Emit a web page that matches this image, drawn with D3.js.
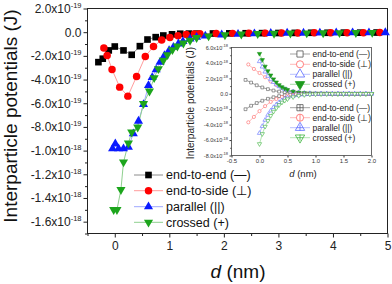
<!DOCTYPE html>
<html>
<head>
<meta charset="utf-8">
<script src="https://d3js.org/d3.v7.min.js"></script>
<style>
  body { margin: 0; background: #fff; }
  svg { display: block; font-family: "Liberation Sans", Arial, sans-serif; }
</style>
</head>
<body>
<div id="chart"></div>
<script>
// ---- main panel data (d in nm, potential in units of 1e-19 J) ----
const e2eD = [-0.3, -0.22, -0.11, 0.0, 0.16, 0.31, 0.46, 0.6, 0.75, 0.89, 1.05, 1.2, 1.36, 1.5, 1.8, 2.1, 2.4, 2.7, 3.0, 3.3, 3.6, 3.9, 4.2, 4.5, 4.8];
const e2eV = [-2.53, -2.24, -1.54, -1.21, -1.54, -1.91, -1.18, -0.62, -0.42, -0.28, -0.18, -0.13, -0.12, -0.12, -0.11, -0.1, -0.09, -0.08, -0.07, -0.06, -0.05, -0.05, -0.04, -0.04, -0.03];
const e2sD = [-0.2, -0.14, -0.05, 0.09, 0.24, 0.4, 0.56, 0.71, 0.86, 1.01, 1.16, 1.31, 1.46, 1.56, 1.86, 2.16, 2.46, 2.76, 3.06, 3.36, 3.66, 3.96, 4.26, 4.56, 4.86];
const e2sV = [-1.33, -1.97, -3.15, -4.64, -5.4, -3.74, -2.05, -1.21, -0.66, -0.45, -0.3, -0.2, -0.15, -0.13, -0.12, -0.1, -0.09, -0.08, -0.07, -0.06, -0.05, -0.05, -0.04, -0.04, -0.03];
const parD = [-0.04, 0.01, 0.07, 0.16, 0.25, 0.34, 0.435, 0.527, 0.618, 0.686, 0.759, 0.83, 0.91, 0.996, 1.075, 1.166, 1.25, 1.38, 1.5, 1.66, 1.96, 2.26, 2.56, 2.86, 3.16, 3.46, 3.76, 4.06, 4.36, 4.66, 4.96];
const parV = [-9.84, -9.43, -9.84, -9.84, -9.7, -8.57, -7.51, -6.1, -4.5, -3.82, -3.17, -2.53, -1.97, -1.54, -1.27, -0.98, -0.78, -0.57, -0.42, -0.32, -0.22, -0.17, -0.13, -0.1, -0.08, -0.07, -0.06, -0.05, -0.04, -0.04, -0.03];
const crsD = [-0.02, 0.04, 0.113, 0.16, 0.25, 0.31, 0.42, 0.527, 0.636, 0.722, 0.8, 0.89, 0.965, 1.057, 1.148, 1.258, 1.38, 1.5, 1.72, 2.02, 2.32, 2.62, 2.92, 3.22, 3.52, 3.82, 4.12, 4.42, 4.72];
const crsV = [-14.99, -14.99, -13.3, -10.97, -9.37, -8.44, -8.02, -6.04, -4.98, -3.85, -3.09, -2.39, -1.91, -1.49, -1.18, -0.93, -0.7, -0.47, -0.33, -0.23, -0.17, -0.13, -0.1, -0.08, -0.07, -0.06, -0.05, -0.04, -0.03];

const legendLabels = ['end-to-end (\u2014)', 'end-to-side (\u22A5)', 'parallel (||)', 'crossed (+)'];

const xTicks = [0, 1, 2, 3, 4, 5];
const xMinor = [-0.5, 0.5, 1.5, 2.5, 3.5, 4.5];
const yTicks = [2, 0, -2, -4, -6, -8, -10, -12, -14, -16];
const yTickMant = ['2.0', '0.0', '-2.0', '-4.0', '-6.0', '-8.0', '-1.0', '-1.2', '-1.4', '-1.6'];
const yTickExp = ['-19', '', '-19', '-19', '-19', '-19', '-18', '-18', '-18', '-18'];
const yMinor = [1, -1, -3, -5, -7, -9, -11, -13, -15, -17];

// ---- inset data (d in nm, potential in units of 1e-18 J) ----
const inE2eD = [-0.25, -0.15, -0.05, 0.05, 0.15, 0.25, 0.35, 0.45, 0.55, 0.65, 0.75, 0.85, 0.95, 1.05, 1.15, 1.25, 1.35, 1.45, 1.55, 1.65, 1.75, 1.85, 1.95];
const inE2ePos = [1.8, 1.45, 1.1, 0.82, 0.6, 0.42, 0.28, 0.18, 0.11, 0.07, 0.05, 0.03, 0.02, 0.02, 0.01, 0.01, 0.01, 0.01, 0, 0, 0, 0, 0];
const inE2eNeg = [-2.0, -1.55, -1.2, -0.9, -0.65, -0.45, -0.3, -0.19, -0.12, -0.07, -0.05, -0.03, -0.02, -0.02, -0.01, -0.01, -0.01, -0.01, 0, 0, 0, 0, 0];
const inE2sD = [-0.2, -0.1, 0, 0.1, 0.2, 0.3, 0.4, 0.5, 0.6, 0.7, 0.8, 0.9, 1.0, 1.1, 1.2, 1.3, 1.4, 1.5, 1.6, 1.7, 1.8, 1.9, 2.0];
const inE2sPos = [3.8, 3.22, 2.7, 2.15, 1.6, 1.15, 0.75, 0.45, 0.27, 0.15, 0.09, 0.05, 0.03, 0.02, 0.01, 0.01, 0.01, 0, 0, 0, 0, 0, 0];
const inE2sNeg = [-3.7, -3.0, -2.25, -1.6, -1.05, -0.68, -0.42, -0.25, -0.15, -0.09, -0.05, -0.03, -0.02, -0.01, -0.01, -0.01, 0, 0, 0, 0, 0, 0, 0];
const inParD = [0, 0.05, 0.1, 0.15, 0.2, 0.25, 0.3, 0.35, 0.4, 0.45, 0.5, 0.6, 0.7, 0.8, 0.9, 1.0, 1.1, 1.2, 1.3, 1.4, 1.5, 1.6, 1.7, 1.8, 1.9, 2.0];
const inParPos = [4.2, 3.5, 2.85, 2.3, 1.85, 1.5, 1.2, 0.95, 0.75, 0.6, 0.47, 0.3, 0.18, 0.1, 0.06, 0.04, 0.03, 0.02, 0.01, 0.01, 0.01, 0, 0, 0, 0, 0];
const inParNeg = [-5.1, -4.2, -3.4, -2.75, -2.2, -1.75, -1.4, -1.1, -0.85, -0.65, -0.5, -0.3, -0.18, -0.1, -0.06, -0.04, -0.03, -0.02, -0.01, -0.01, -0.01, 0, 0, 0, 0, 0];
const inCrsD = [0, 0.05, 0.1, 0.15, 0.2, 0.25, 0.3, 0.35, 0.4, 0.45, 0.5, 0.6, 0.7, 0.8, 0.9, 1.0, 1.1, 1.2, 1.3, 1.4, 1.5, 1.6, 1.7, 1.8, 1.9, 2.0];
const inCrsPos = [5.2, 4.4, 3.55, 2.95, 2.4, 1.9, 1.5, 1.15, 0.88, 0.68, 0.52, 0.3, 0.18, 0.1, 0.06, 0.04, 0.03, 0.02, 0.01, 0.01, 0.01, 0, 0, 0, 0, 0];
const inCrsNeg = [-6.5, -5.2, -4.25, -3.5, -2.85, -2.3, -1.85, -1.45, -1.12, -0.88, -0.68, -0.42, -0.25, -0.14, -0.08, -0.05, -0.03, -0.02, -0.01, -0.01, -0.01, 0, 0, 0, 0, 0];

const inXTicks = [-0.5, 0, 0.5, 1, 1.5, 2];
const inXLabels = ['-0.5', '0.0', '0.5', '1.0', '1.5', '2.0'];
const inYTicks = [6, 4, 2, 0, -2, -4, -6, -8];
const inYMant = ['6.0', '4.0', '2.0', '0.0', '-2.0', '-4.0', '-6.0', '-8.0'];
const inYExp = ['-18', '-18', '-18', '', '-18', '-18', '-18', '-18'];
const inYMinor = [5, 3, 1, -1, -3, -5, -7];

// ---- drawing ----
const W = 392, H = 284;
const svg = d3.select('#chart').append('svg').attr('width', W).attr('height', H);
svg.append('rect').attr('width', W).attr('height', H).attr('fill', '#fff');

const symType = { square: d3.symbolSquare, circle: d3.symbolCircle, up: d3.symbolTriangle, down: d3.symbolTriangle };

// one marker; cross = draw a plus inside the open shape
function marker(g, kind, size, fill, stroke, sw, cross) {
  const m = g.append('g');
  m.append('path')
    .attr('d', d3.symbol().type(symType[kind]).size(size)())
    .attr('transform', kind === 'down' ? 'rotate(180)' : null)
    .attr('fill', fill)
    .attr('stroke', stroke)
    .attr('stroke-width', sw);
  if (cross) {
    const r = Math.sqrt(size) / 2;
    const hline = kind === 'circle' ? '' : `M${-r},0H${r}`;
    m.append('path')
      .attr('d', `${hline}M0,${-r}V${r}`)
      .attr('stroke', stroke)
      .attr('stroke-width', sw);
  }
  return m;
}

function supLabels(g, mant, exp, supSize, rise) {
  g.selectAll('.tick text').each(function (d, i) {
    const t = d3.select(this);
    t.text(null);
    t.append('tspan').text(mant[i] + (exp[i] ? 'x10' : ''));
    if (exp[i]) t.append('tspan').attr('dy', -rise).attr('font-size', supSize).text(exp[i]);
  });
}

// main scales
const x = d3.scaleLinear().domain([-0.5, 5]).range([87.5, 387.5]);
const y = d3.scaleLinear().domain([-17, 2]).range([233.5, 8.5]);

// x axis
const gx = svg.append('g').attr('transform', 'translate(0,233.5)')
  .call(d3.axisBottom(x).tickValues(xTicks).tickSize(4).tickPadding(4).tickFormat(d3.format('d')))
  .attr('font-family', null).attr('font-size', 12).attr('color', '#222');
gx.select('.domain').remove();
const gxm = svg.append('g').attr('transform', 'translate(0,233.5)')
  .call(d3.axisBottom(x).tickValues(xMinor).tickSize(2.5).tickFormat(''))
  .attr('color', '#222');
gxm.select('.domain').remove();

// y axis
const gy = svg.append('g').attr('transform', 'translate(87.5,0)')
  .call(d3.axisLeft(y).tickValues(yTicks).tickSize(4).tickPadding(2))
  .attr('font-family', null).attr('font-size', 12).attr('color', '#222');
gy.select('.domain').remove();
supLabels(gy, yTickMant, yTickExp, 7.5, 5);
const gym = svg.append('g').attr('transform', 'translate(87.5,0)')
  .call(d3.axisLeft(y).tickValues(yMinor).tickSize(2.5).tickFormat(''))
  .attr('color', '#222');
gym.select('.domain').remove();

// frame
svg.append('rect')
  .attr('x', 87.5).attr('y', 8.5).attr('width', 300).attr('height', 225)
  .attr('fill', 'none').attr('stroke', '#222').attr('stroke-width', 1);

// axis titles
svg.append('text')
  .attr('transform', 'translate(16.5,116) rotate(-90)')
  .attr('text-anchor', 'middle').attr('font-size', 19).attr('fill', '#111')
  .text('Interparticle potentials (J)');
const xt = svg.append('text')
  .attr('x', 238).attr('y', 278).attr('text-anchor', 'middle').attr('font-size', 19).attr('fill', '#111');
xt.append('tspan').attr('font-style', 'italic').text('d');
xt.append('tspan').text(' (nm)');

// main series
const mainSeries = [
  { d: e2eD, v: e2eV, kind: 'square', size: 44, color: '#000', line: '#8c8c8c' },
  { d: e2sD, v: e2sV, kind: 'circle', size: 44, color: '#ff0000', line: '#ff9c9c' },
  { d: parD, v: parV, kind: 'up', size: 36, color: '#0a1aff', line: '#9ea8ff' },
  { d: crsD, v: crsV, kind: 'down', size: 36, color: '#1ca51c', line: '#8fd08f' },
];
const line = d3.line();
mainSeries.forEach((s) => {
  const pts = s.d.map((d, i) => [x(d), y(s.v[i])]);
  svg.append('path').attr('d', line(pts)).attr('fill', 'none')
    .attr('stroke', s.line).attr('stroke-width', 1);
});
mainSeries.forEach((s) => {
  const g = svg.append('g');
  s.d.forEach((d, i) => {
    marker(g, s.kind, s.size, s.color, 'none', 0)
      .attr('transform', `translate(${x(d)},${y(s.v[i])})`);
  });
});

// main legend
const legY = [175, 190.7, 206.7, 222.3];
mainSeries.forEach((s, i) => {
  const g = svg.append('g');
  g.append('line').attr('x1', 134).attr('x2', 163).attr('y1', legY[i]).attr('y2', legY[i])
    .attr('stroke', s.line).attr('stroke-width', 1);
  marker(g, s.kind, s.size, s.color, 'none', 0).attr('transform', `translate(148.5,${legY[i]})`);
  g.append('text').attr('x', 166).attr('y', legY[i]).attr('dy', '0.35em')
    .attr('font-size', 12.5).attr('fill', '#111').text(legendLabels[i]);
});

// ---- inset ----
const ix = d3.scaleLinear().domain([-0.5, 2]).range([231.5, 371.5]);
const iy = d3.scaleLinear().domain([-8, 6]).range([155.5, 47.5]);

svg.append('rect')
  .attr('x', 231.5).attr('y', 47.5).attr('width', 140).attr('height', 108)
  .attr('fill', '#fff');

const igx = svg.append('g').attr('transform', 'translate(0,155.5)')
  .call(d3.axisBottom(ix).tickValues(inXTicks).tickSize(2).tickPadding(1.5).tickFormat((d, i) => inXLabels[i]))
  .attr('font-family', null).attr('font-size', 6).attr('color', '#333');
igx.select('.domain').remove();
const igy = svg.append('g').attr('transform', 'translate(231.5,0)')
  .call(d3.axisLeft(iy).tickValues(inYTicks).tickSize(2).tickPadding(1.5))
  .attr('font-family', null).attr('font-size', 5.5).attr('color', '#333');
igy.select('.domain').remove();
supLabels(igy, inYMant, inYExp, 4, 2.5);
const igym = svg.append('g').attr('transform', 'translate(231.5,0)')
  .call(d3.axisLeft(iy).tickValues(inYMinor).tickSize(1.2).tickFormat(''))
  .attr('color', '#333');
igym.select('.domain').remove();

svg.append('rect')
  .attr('x', 231.5).attr('y', 47.5).attr('width', 140).attr('height', 108)
  .attr('fill', 'none').attr('stroke', '#444').attr('stroke-width', 0.8);

svg.append('text')
  .attr('transform', 'translate(193.5,103) rotate(-90)')
  .attr('text-anchor', 'middle').attr('font-size', 10).attr('fill', '#222')
  .text('Interparticle potentials (J)');
const ixt = svg.append('text')
  .attr('x', 303).attr('y', 177).attr('text-anchor', 'middle').attr('font-size', 9.5).attr('fill', '#222');
ixt.append('tspan').attr('font-style', 'italic').text('d');
ixt.append('tspan').text(' (nm)');

const insetSeries = [
  { d: inE2eD, v: inE2ePos, kind: 'square', color: '#555', line: '#8a8a8a', fill: '#fff', cross: false },
  { d: inE2sD, v: inE2sPos, kind: 'circle', color: '#ff6262', line: '#ffa6a6', fill: '#fff', cross: false },
  { d: inParD, v: inParPos, kind: 'up', color: '#5a6aff', line: '#a6aeff', fill: '#fff', cross: false },
  { d: inCrsD, v: inCrsPos, kind: 'down', color: '#1c9a1c', line: '#8fd08f', fill: '#1c9a1c', cross: false },
  { d: inE2eD, v: inE2eNeg, kind: 'square', color: '#555', line: '#8a8a8a', fill: '#fff', cross: true },
  { d: inE2sD, v: inE2sNeg, kind: 'circle', color: '#ff6262', line: '#ffa6a6', fill: '#fff', cross: true },
  { d: inParD, v: inParNeg, kind: 'up', color: '#5a6aff', line: '#a6aeff', fill: '#fff', cross: true },
  { d: inCrsD, v: inCrsNeg, kind: 'down', color: '#3cb43c', line: '#a0dca0', fill: '#fff', cross: true },
];
insetSeries.forEach((s) => {
  const pts = s.d.map((d, i) => [ix(d), iy(s.v[i])]);
  svg.append('path').attr('d', line(pts)).attr('fill', 'none')
    .attr('stroke', s.line).attr('stroke-width', 0.8);
});
insetSeries.forEach((s) => {
  const g = svg.append('g');
  s.d.forEach((d, i) => {
    marker(g, s.kind, 8, s.fill, s.color, 0.6, false)
      .attr('transform', `translate(${ix(d)},${iy(s.v[i])})`);
  });
});

// inset legend
const inLegY = [54, 64.3, 74.3, 84.3, 107.7, 117.7, 127.7, 137.7];
insetSeries.forEach((s, i) => {
  const g = svg.append('g');
  g.append('line').attr('x1', 290).attr('x2', 310).attr('y1', inLegY[i]).attr('y2', inLegY[i])
    .attr('stroke', s.line).attr('stroke-width', 0.8);
  marker(g, s.kind, s.kind === 'circle' ? 40 : 38, s.fill, s.color, 0.8, s.cross)
    .attr('transform', `translate(300,${inLegY[i]})`);
  g.append('text').attr('x', 312.5).attr('y', inLegY[i]).attr('dy', '0.35em')
    .attr('font-size', 8.5).attr('fill', '#222').text(legendLabels[i % 4]);
});
</script>
</body>
</html>
